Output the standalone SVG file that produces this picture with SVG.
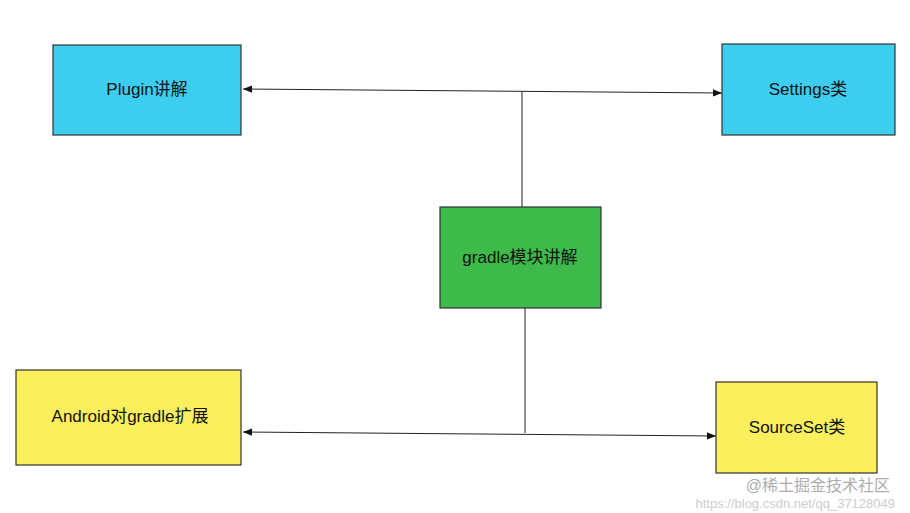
<svg xmlns="http://www.w3.org/2000/svg" width="910" height="513" viewBox="0 0 910 513">
<style>
.b{stroke:#333;stroke-width:1.2}
.t{font-family:"Liberation Sans","Noto Sans CJK SC",sans-serif;font-size:17px;fill:#111;text-anchor:middle;dominant-baseline:middle}
.c{stroke:#222;stroke-width:1;fill:none}
</style>
<defs><marker id="a" viewBox="0 0 10 10" refX="10" refY="5" markerWidth="9" markerHeight="9" orient="auto-start-reverse"><path d="M0,1 L10,5 L0,9 Z" fill="#111"/></marker></defs>
<rect width="910" height="513" fill="#fff"/>
<g id="connectors">
<path class="c" d="M243,89 L722,93" marker-start="url(#a)" marker-end="url(#a)"/>
<path class="c" d="M522,91 L522,207"/>
<path class="c" d="M243,432 L716,436" marker-start="url(#a)" marker-end="url(#a)"/>
<path class="c" d="M525,308 L525,433"/>
</g>
<g id="plugin"><rect class="b" x="53" y="45" width="188" height="90" fill="#3dcdee"/><text class="t" x="147" y="91">Plugin讲解</text></g>
<g id="settings"><rect class="b" x="722" y="44" width="173" height="91" fill="#3dcdee"/><text class="t" x="808" y="91">Settings类</text></g>
<g id="gradle"><rect class="b" x="440" y="207" width="161" height="101" fill="#3dba4a"/><text class="t" x="520" y="259">gradle模块讲解</text></g>
<g id="android"><rect class="b" x="16" y="370" width="225" height="95" fill="#fbef5e"/><text class="t" x="130" y="418">Android对gradle扩展</text></g>
<g id="sourceset"><rect class="b" x="716" y="382" width="161" height="91" fill="#fbef5e"/><text class="t" x="797" y="429">SourceSet类</text></g>
<text x="895" y="508" style="font-family:'Liberation Sans',sans-serif;font-size:13px;fill:#ccc;text-anchor:end">https://blog.csdn.net/qq_37128049</text>
<text x="890" y="491" style="font-family:'Liberation Sans','Noto Sans CJK SC',sans-serif;font-size:16px;fill:#999;text-anchor:end;opacity:0.8">@稀土掘金技术社区</text>
</svg>
